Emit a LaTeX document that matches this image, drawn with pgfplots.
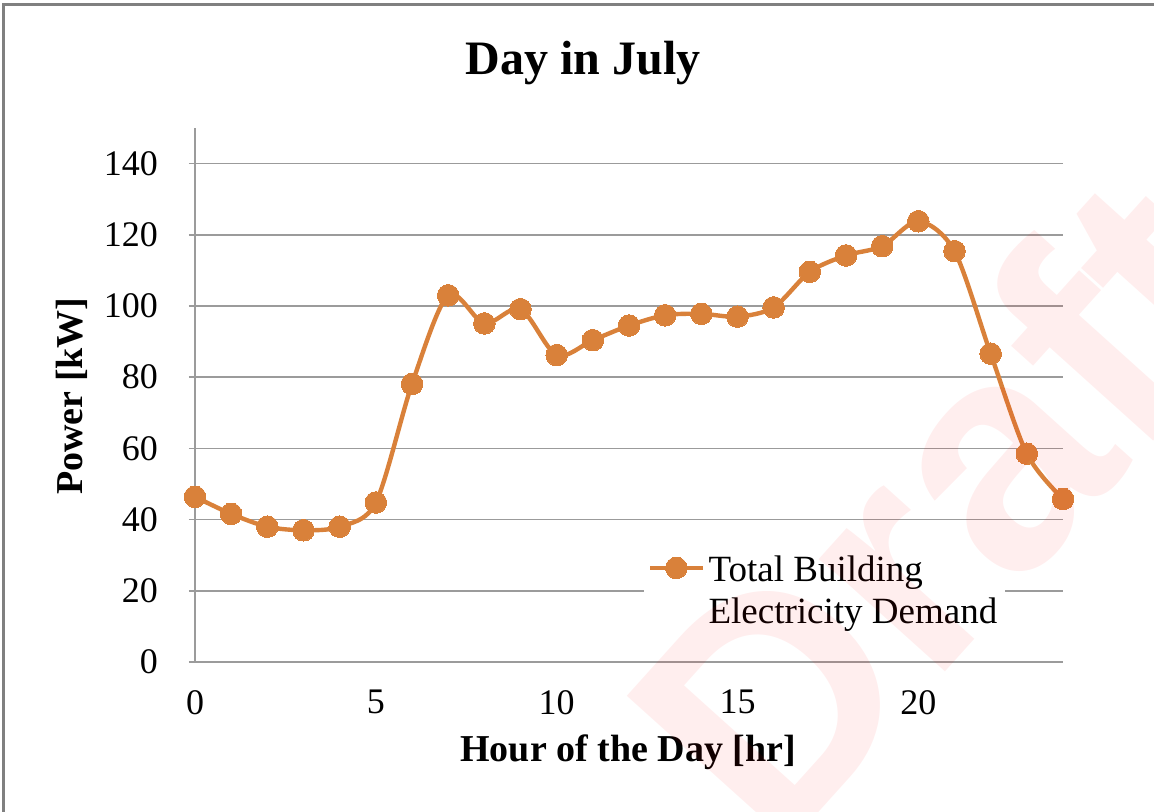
\documentclass[border=0pt]{standalone}
\usepackage{fontspec}
\setmainfont{Liberation Serif}
\setsansfont{Liberation Sans}
\usepackage{pgfplots}
\pgfplotsset{compat=1.18}
\definecolor{lineorange}{RGB}{217,129,58}
\definecolor{gridgray}{RGB}{155,155,155}
\begin{document}
\begin{tikzpicture}
\begin{axis}[
  at={(0,0)}, anchor=south west,
  scale only axis,
  width=434pt, height=267pt,
  xmin=0, xmax=24, ymin=0, ymax=150,
  xtick={0,5,10,15,20}, ytick={0,20,...,140},
  axis x line=bottom, axis y line=left,
  axis line style={draw=gridgray, line width=0.8pt, -},
  ymajorgrids, grid style={draw=gridgray, line width=0.8pt},
  tick align=outside,
  xtick style={draw=none},
  ytick style={draw=gridgray, line width=0.8pt},
  major tick length=3pt,
  /pgf/number format/assume math mode=true,
  tick label style={font=\fontsize{18}{21}\selectfont},
  xticklabel style={yshift=-7.5pt},
  yticklabel style={xshift=-12pt},
  title={Day in July},
  title style={font=\fontsize{24}{28}\selectfont\bfseries, at={(axis description cs:0.447,1.099)}, anchor=center},
  xlabel={Hour of the Day [hr]},
  xlabel style={font=\fontsize{19}{22}\selectfont\bfseries, at={(axis description cs:0.499,-0.1685)}, anchor=center},
  ylabel={Power [kW]},
  ylabel style={font=\fontsize{19}{22}\selectfont\bfseries, at={(axis description cs:-0.1417,0.498)}, anchor=center, rotate=0},
  legend style={at={(axis description cs:0.517,0.226)}, anchor=north west, draw=none, fill=white,
    inner xsep=2pt, inner ysep=3pt, font=\fontsize{18.5}{21}\selectfont,
    /tikz/every even column/.append style={column sep=4pt}},
  legend image code/.code={\draw[mark repeat=2,mark phase=2] plot coordinates {(0pt,0pt)(13pt,0pt)(26pt,0pt)};},
]
\addplot[color=lineorange, line width=2.2pt, smooth, mark=*, mark size=5.4pt, mark options={fill=lineorange, draw=lineorange, line width=0pt}]
coordinates {
(0,46.4) (1,41.6) (2,38.0) (3,37.0) (4,38.0) (5,44.8) (6,78.1) (7,103.0) (8,95.1) (9,99.1)
(10,86.2) (11,90.4) (12,94.5) (13,97.4) (14,97.8) (15,97.0) (16,99.6) (17,109.6) (18,114.2)
(19,116.8) (20,123.8) (21,115.4) (22,86.6) (23,58.5) (24,45.8)
};
\addlegendentry{\begin{tabular}[t]{@{}l@{}}Total Building\\Electricity Demand\end{tabular}}
\end{axis}
\node[rotate=48, text=red, text opacity=0.065, font=\fontsize{160}{160}\selectfont\sffamily\bfseries, anchor=center] at (373pt,78pt) {Draft};
\draw[color=gray, line width=1.5pt] (-95.5pt,-200pt) rectangle (600pt,328.5pt);
\pgfresetboundingbox
\useasboundingbox (-97.5pt,-75pt) rectangle (479.5pt,331pt);
\end{tikzpicture}
\end{document}
